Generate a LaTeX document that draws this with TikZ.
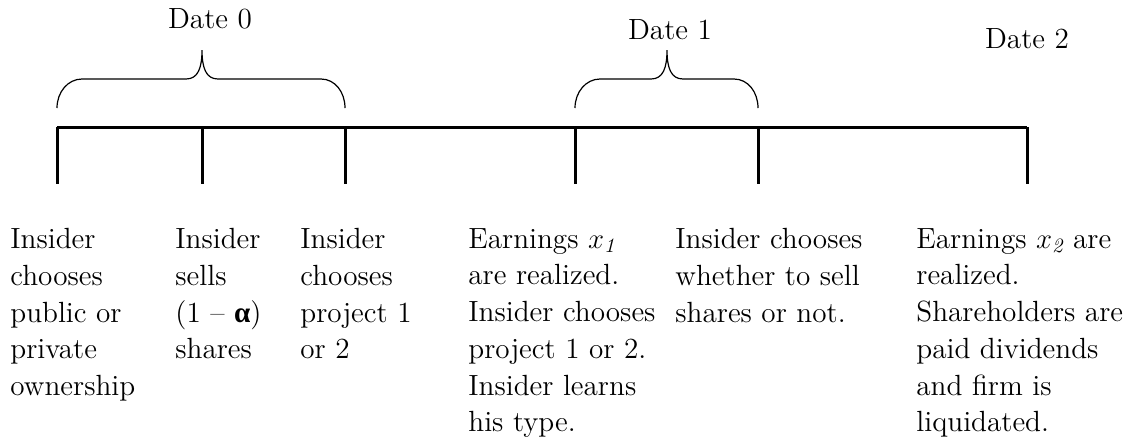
\documentclass[tikz,border=0pt]{standalone}
\usepackage{amsmath}
\usepackage{fontspec}
\newfontfamily\grkfont{Liberation Serif}
\begin{document}
\begin{tikzpicture}[x=0.5pt,y=-0.5pt,
  axis/.style={line width=1.5pt},
  bracepath/.style={line width=0.6pt},
  lbl/.style={inner sep=0pt,font=\fontsize{14.6}{18.35}\selectfont},
  evt/.style={lbl,anchor=north west,align=left}]
\useasboundingbox (0,0) rectangle (1145,441);
% timeline points
\coordinate (t0) at (57,127);
\coordinate (t1) at (202,127);
\coordinate (t2) at (345,127);
\coordinate (t3) at (575,127);
\coordinate (t4) at (758,127);
\coordinate (t5) at (1027,127);
\foreach \i in {0,...,5} {\coordinate (b\i) at ([yshift=-28.5pt]t\i);}
\draw[axis] (t0) -- (t5);
\foreach \i in {0,...,5} {\draw[axis] (t\i) -- (b\i);}
% braces
\draw[bracepath] (57,108) .. controls (57,92) and (68,79) .. (82,79) -- (186,79)
  .. controls (198,79) and (202,68) .. (202,50)
  .. controls (202,68) and (206,79) .. (218,79) -- (321,79)
  .. controls (335,79) and (345,92) .. (345,108);
\draw[bracepath] (575,108) .. controls (575,92) and (586,79) .. (600,79) -- (651,79)
  .. controls (663,79) and (667,68) .. (667,50)
  .. controls (667,68) and (671,79) .. (683,79) -- (734,79)
  .. controls (748,79) and (758,92) .. (758,108);
% date labels
\node[lbl] (d0) at (210,19) {Date 0};
\node[lbl] (d1) at (670,30) {Date 1};
\node[lbl] (d2) at (1027,39) {Date 2};
% event texts
\node[evt] (e0) at (10,228) {Insider\\chooses\\public or\\private\\ownership};
\node[evt] (e1) at (175,228) {Insider\\sells\\(1 -- {\grkfont\bfseries α})\\shares};
\node[evt] (e2) at (300,228) {Insider\\chooses\\project 1\\or 2};
\node[evt] (e3) at (468,228) {Earnings $x_{\mathit{1}}$\\are realized.\\Insider chooses\\project 1 or 2.\\Insider learns\\his type.};
\node[evt] (e4) at (675,228) {Insider chooses\\whether to sell\\shares or not.};
\node[evt] (e5) at (916,228) {Earnings $x_{\mathit{2}}$ are\\realized.\\Shareholders are\\paid dividends\\and firm is\\liquidated.};
\end{tikzpicture}
\end{document}
